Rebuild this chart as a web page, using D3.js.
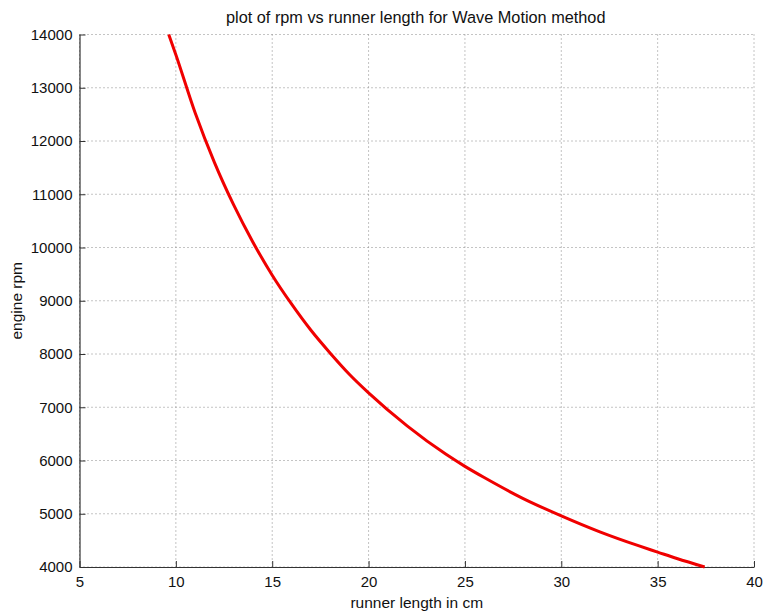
<!DOCTYPE html>
<html>
<head>
<meta charset="utf-8">
<script src="https://cdn.jsdelivr.net/npm/d3@7"></script>
<style>
  body { margin: 0; background: #fff; }
  text { font-family: "Liberation Sans", Arial, sans-serif; fill: #111; }
</style>
</head>
<body>
<div id="chart-area"></div>
<script>
// runner length (cm) and engine rpm
var runnerLength = [9.63, 10, 11, 12, 13, 14, 15, 16, 17, 18, 19, 20, 22, 24, 25, 26, 28, 30, 32, 34, 35, 36, 37.44];
var engineRpm = [14000, 13620, 12530, 11600, 10800, 10100, 9480, 8940, 8450, 8020, 7620, 7270, 6650, 6120, 5890, 5680, 5290, 4960, 4660, 4400, 4280, 4160, 4000];
var xTicks = [5, 10, 15, 20, 25, 30, 35, 40];
var yTicks = [4000, 5000, 6000, 7000, 8000, 9000, 10000, 11000, 12000, 13000, 14000];

var margin = {top: 34.5, right: 11, bottom: 44, left: 79.5},
    width = 765 - margin.left - margin.right,
    height = 611 - margin.top - margin.bottom;

var svg = d3.select("#chart-area")
  .append("svg")
    .attr("width", 765)
    .attr("height", 611)
  .append("g")
    .attr("transform", "translate(" + margin.left + "," + margin.top + ")");

var x = d3.scaleLinear().domain([5, 40]).range([0, width]);
var y = d3.scaleLinear().domain([4000, 14000]).range([height, 0]);

// dotted grid
svg.append("g").selectAll("line")
  .data(xTicks)
  .enter().append("line")
    .attr("x1", function(d) { return x(d); })
    .attr("x2", function(d) { return x(d); })
    .attr("y1", 0).attr("y2", height)
    .attr("stroke", "#888").attr("stroke-width", 1)
    .attr("stroke-dasharray", "1,3");

svg.append("g").selectAll("line")
  .data(yTicks)
  .enter().append("line")
    .attr("y1", function(d) { return y(d); })
    .attr("y2", function(d) { return y(d); })
    .attr("x1", 0).attr("x2", width)
    .attr("stroke", "#888").attr("stroke-width", 1)
    .attr("stroke-dasharray", "1,3");

// axes
var xAxis = svg.append("g")
  .attr("transform", "translate(0," + height + ")")
  .call(d3.axisBottom(x).tickValues(xTicks).tickFormat(d3.format("d"))
    .tickSizeInner(-6).tickSizeOuter(0).tickPadding(9));

var yAxis = svg.append("g")
  .call(d3.axisLeft(y).tickValues(yTicks).tickFormat(d3.format("d"))
    .tickSizeInner(-6).tickSizeOuter(0).tickPadding(7));

[xAxis, yAxis].forEach(function(a) {
  a.select(".domain").attr("stroke", "#333").attr("stroke-width", 1.2);
  a.selectAll(".tick line").attr("stroke", "#333");
  a.selectAll(".tick text")
    .attr("font-size", "15px")
    .attr("font-family", "Liberation Sans, Arial, sans-serif")
    .attr("fill", "#111");
});

// the curve
var line = d3.line()
  .x(function(d, i) { return x(runnerLength[i]); })
  .y(function(d) { return y(d); })
  .curve(d3.curveMonotoneX);

svg.append("path")
  .datum(engineRpm)
  .attr("fill", "none")
  .attr("stroke", "#f00000")
  .attr("stroke-width", 3)
  .attr("d", line);

// labels
svg.append("text")
  .attr("x", width / 2 - 1)
  .attr("y", -12)
  .attr("font-size", "16.3px")
  .attr("text-anchor", "middle")
  .text("plot of rpm vs runner length for Wave Motion method");

svg.append("text")
  .attr("x", width / 2)
  .attr("y", height + 41)
  .attr("font-size", "15.5px")
  .attr("text-anchor", "middle")
  .text("runner length in cm");

svg.append("text")
  .attr("transform", "rotate(-90)")
  .attr("x", -height / 2)
  .attr("y", -58)
  .attr("font-size", "15.5px")
  .attr("text-anchor", "middle")
  .text("engine rpm");
</script>
</body>
</html>
